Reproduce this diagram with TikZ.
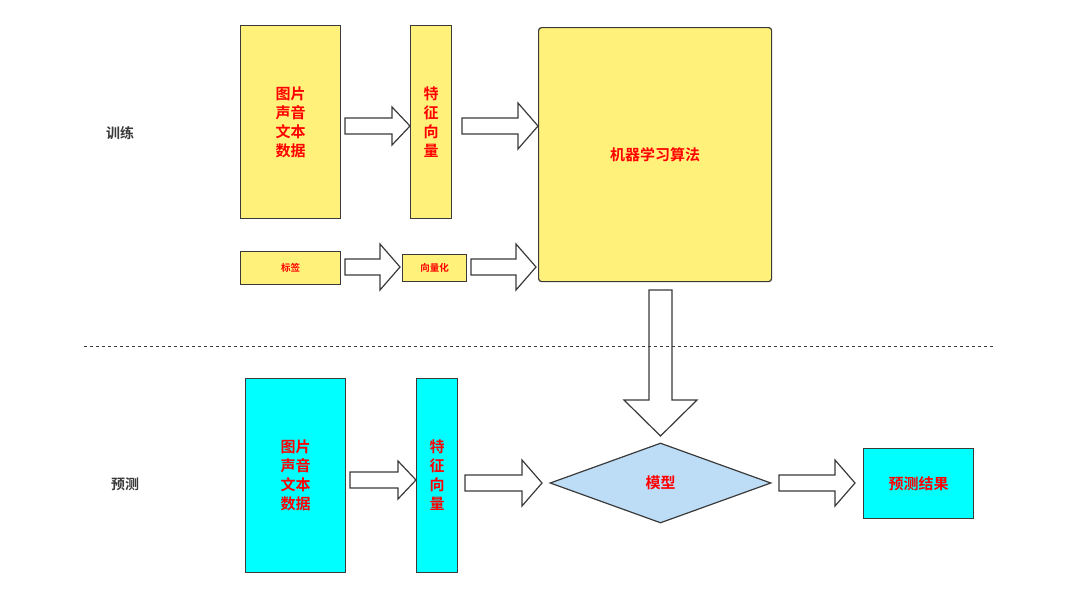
\documentclass[tikz,border=0pt]{standalone}
\usepackage{fontspec}
\newfontfamily\cjk{Noto Sans CJK SC}[BoldFont={Noto Sans CJK SC Bold}]
\usetikzlibrary{shapes.geometric}
\definecolor{trainfill}{HTML}{FFF17A}
\definecolor{predfill}{HTML}{00FFFF}
\definecolor{modelfill}{HTML}{BDDDF7}
\definecolor{edge}{HTML}{3A3A3A}
\definecolor{txtred}{HTML}{FF0000}
% hollow block arrow: x1, x2, y, half shaft, half head, head length
\newcommand{\blockarr}[6]{%
  \draw[edge, line width=1.2pt, fill=white] (#1,#3-#4) -- (#2-#6,#3-#4) -- (#2-#6,#3-#5) -- (#2,#3)
    -- (#2-#6,#3+#5) -- (#2-#6,#3+#4) -- (#1,#3+#4) -- cycle;}
\begin{document}
\begin{tikzpicture}[x=1pt, y=-1pt, font=\cjk\bfseries,
  box/.style = {draw=edge, line width=1.2pt, anchor=north west, inner sep=0pt, text=txtred, align=center},
  big/.style = {font=\cjk\bfseries\fontsize{15}{19}\selectfont},
  small/.style = {font=\cjk\bfseries\fontsize{9.5}{11}\selectfont}]
\useasboundingbox (0,0) rectangle (1078,597);
% training
\node[box, big, fill=trainfill, minimum width=100, minimum height=193] (data1) at (240,25) {图片\\声音\\文本\\数据};
\node[box, big, fill=trainfill, minimum width=41, minimum height=193] (feat1) at (410,25) {特\\征\\向\\量};
\node[box, big, fill=trainfill, rounded corners=3pt, minimum width=233, minimum height=254] (algo) at (538,27) {机器学习算法};
\node[box, small, fill=trainfill, minimum width=100, minimum height=33] (label) at (240,251) {标签};
\node[box, small, fill=trainfill, minimum width=64, minimum height=27] (vec) at (402,254) {向量化};
\node[font=\cjk\bfseries\fontsize{14}{16}\selectfont, text=edge] (train) at (120,133) {训练};
\blockarr{345}{410}{126}{8}{19}{18}
\blockarr{462}{538}{126}{8}{23}{20}
\blockarr{345}{400}{267}{8}{23}{20}
\blockarr{471}{536}{267}{8}{23}{20}
% model arrow down
\draw[edge, line width=1.2pt, fill=white] (649,290) -- (672,290) -- (672,400) -- (697,400) -- (660.5,436)
  -- (624,400) -- (649,400) -- cycle;
\draw[edge, dashed, line width=0.6pt] (84,346) -- (995,346);
% prediction
\node[box, big, fill=predfill, minimum width=100, minimum height=194] (data2) at (245,378) {图片\\声音\\文本\\数据};
\node[box, big, fill=predfill, minimum width=41, minimum height=194] (feat2) at (416,378) {特\\征\\向\\量};
\node[diamond, draw=edge, line width=1.2pt, fill=modelfill, text=txtred, big, minimum width=221, minimum height=80, inner sep=0pt, aspect=2.76] (model) at (660.5,483) {模型};
\node[box, big, fill=predfill, minimum width=110, minimum height=70] (result) at (863,448) {预测结果};
\node[font=\cjk\bfseries\fontsize{14}{16}\selectfont, text=edge] (pred) at (125,484) {预测};
\blockarr{350}{416}{480}{8}{19}{18}
\blockarr{465}{542}{483}{8}{23}{20}
\blockarr{779}{855}{483}{8}{23}{20}
\end{tikzpicture}
\end{document}
